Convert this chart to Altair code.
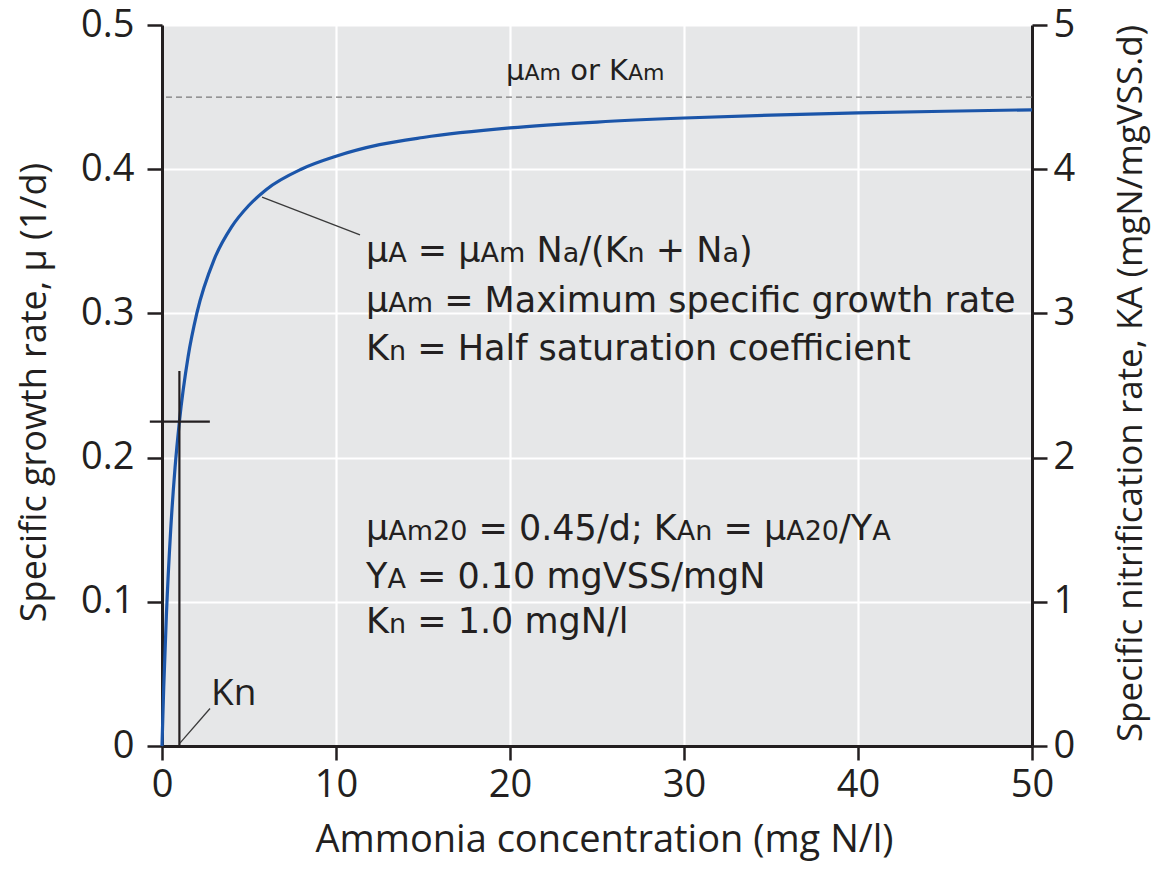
import altair as alt
import pandas as pd

# ---------------- data ----------------
conc = [0, 0.05, 0.1, 0.25, 0.5, 0.75, 1, 1.5, 2, 3, 4, 5, 6, 8, 10,
        12.5, 15, 20, 25, 30, 35, 40, 45, 50]
mu = [0, 0.021, 0.041, 0.090, 0.150, 0.193, 0.225, 0.270, 0.300, 0.3375,
      0.360, 0.375, 0.386, 0.400, 0.409, 0.417, 0.422, 0.4286, 0.4327,
      0.4355, 0.4375, 0.439, 0.4402, 0.4412]

mu_max = [0.45]
kn_value = [1.0]
kn_mu = [0.225]

x_ticks = [0, 10, 20, 30, 40, 50]
y_ticks = [0, 0.1, 0.2, 0.3, 0.4, 0.5]

x_title = "Ammonia concentration (mg N/l)"
y_title = "Specific growth rate, \u03bc (1/d)"
y2_title = "Specific nitrification rate, KA (mgN/mgVSS.d)"

# annotation lines: (segment text, is_subscript)
line1 = [("\u03bc", 0), ("A", 1), (" = \u03bc", 0), ("Am", 1), (" N", 0), ("a", 1),
         ("/(K", 0), ("n", 1), (" + N", 0), ("a", 1), (")", 0)]
line2 = [("\u03bc", 0), ("Am", 1), (" = Maximum specific growth rate", 0)]
line3 = [("K", 0), ("n", 1), (" = Half saturation coefficient", 0)]
line4 = [("\u03bc", 0), ("Am20", 1), (" = 0.45/d; K", 0), ("An", 1), (" = \u03bc", 0),
         ("A20", 1), ("/Y", 0), ("A", 1)]
line5 = [("Y", 0), ("A", 1), (" = 0.10 mgVSS/mgN", 0)]
line6 = [("K", 0), ("n", 1), (" = 1.0 mgN/l", 0)]
top_label = [("\u03bc", 0), ("Am", 1), (" or K", 0), ("Am", 1)]
kn_label = "Kn"

# ---------------- layout ----------------
W, H = 870, 721
PXU = W / 50.0          # pixels per x unit
PYU = H / 0.5           # pixels per y unit
INK = "#231f20"
BLUE = "#1b55a9"
BG = "#e6e7e8"

# DejaVu Sans advance widths (em)
ADV = {' ': .318, '(': .390, ')': .390, '+': .838, ',': .318, '.': .318,
       '/': .337, ';': .337, '=': .838, 'A': .684, 'H': .752, 'K': .656,
       'M': .863, 'N': .748, 'S': .635, 'V': .684, 'Y': .611, 'a': .613,
       'c': .550, 'd': .635, 'e': .615, 'f': .352, 'g': .635, 'h': .634,
       'i': .278, 'l': .278, 'm': .974, 'n': .634, 'o': .612, 'p': .635,
       'r': .411, 's': .521, 't': .392, 'u': .634, 'w': .818, 'x': .592,
       '\u03bc': .636}
for d in "0123456789":
    ADV[d] = .636


def text_width(s, size):
    return sum(ADV.get(c, 0.6) for c in s) * size


def build(segments, x_px, base_px, big, small):
    rows = []
    x = x_px
    for s, sub in segments:
        fs = small if sub else big
        body = s.lstrip(" ")
        x += text_width(s[:len(s) - len(body)], fs)
        rows.append({"x": x / PXU, "y": base_px / PYU, "t": body, "fs": fs})
        x += text_width(body, fs)
    return rows


rows = []
left0 = 204
for segs, base in [(line1, 484), (line2, 434), (line3, 386),
                   (line4, 206), (line5, 158), (line6, 113)]:
    rows += build(segs, left0, base, 35, 27)
rows += build(top_label, 344, 666, 29, 22)
ann = pd.DataFrame(rows)

curve_df = pd.DataFrame({"conc": conc, "mu": mu})
xs = alt.Scale(domain=[0, 50], nice=False, zero=False)
ys = alt.Scale(domain=[0, 0.5], nice=False, zero=False)

x_axis = alt.Axis(values=x_ticks, format="d", title=x_title, orient="bottom",
                  titleFont="Open Sans", titleFontSize=38, titleFontWeight="normal",
                  titleColor=INK, titleX=442, titleY=105, titleAlign="center",
                  titleBaseline="alphabetic",
                  labelFont="Open Sans", labelFontSize=38, labelColor=INK,
                  labelPadding=6, labelFlush=False, labelOverlap=False,
                  tickSize=14, tickWidth=2.5, tickColor=INK,
                  domainColor=INK, domainWidth=3,
                  grid=True, gridColor="white", gridWidth=2.2)

y_axis = alt.Axis(values=y_ticks, format=".1~f", title=y_title, orient="left",
                  titleFont="Open Sans", titleFontSize=36, titleFontWeight="normal",
                  titleColor=INK, titleAngle=270, titleX=-117, titleY=367,
                  titleAlign="center", titleBaseline="alphabetic",
                  labelFont="Open Sans", labelFontSize=38, labelColor=INK,
                  labelPadding=13, labelOverlap=False,
                  tickSize=15, tickWidth=2.5, tickColor=INK,
                  domainColor=INK, domainWidth=3,
                  grid=True, gridColor="white", gridWidth=2.2)

y2_axis = alt.Axis(values=y_ticks, labelExpr="'' + round(datum.value * 10)",
                   title=y2_title, orient="right",
                   titleFont="Open Sans", titleFontSize=35, titleFontWeight="normal",
                   titleColor=INK, titleAngle=270, titleX=109, titleY=358,
                   titleAlign="center", titleBaseline="alphabetic",
                   labelFont="Open Sans", labelFontSize=38, labelColor=INK,
                   labelPadding=6, labelOverlap=False,
                   tickSize=15, tickWidth=2.5, tickColor=INK,
                   domainColor=INK, domainWidth=3, grid=False)


def X(field):
    return alt.X(field, scale=xs, axis=x_axis)


def Y(field):
    return alt.Y(field, scale=ys, axis=None)


curve = alt.Chart(curve_df).mark_line(color=BLUE, strokeWidth=3.2,
                                      interpolate="monotone").encode(
    x=X("conc:Q"),
    y=alt.Y("mu:Q", scale=ys, axis=y_axis),
)

dash = alt.Chart(pd.DataFrame({"v": mu_max})).mark_rule(
    color="#7a7a7a", strokeWidth=1.4, strokeDash=[6, 4]).encode(
    y=alt.Y("v:Q", scale=ys, axis=y2_axis),
)

kn_df = pd.DataFrame({"k": kn_value, "m": kn_mu})
kn_v = alt.Chart(kn_df).mark_rule(color=INK, strokeWidth=2.2).encode(
    x=X("k:Q"),
    y=Y("y0:Q"),
    y2="y1:Q",
).transform_calculate(y0="0", y1="datum.m + 0.035")

kn_h = alt.Chart(kn_df).mark_rule(color=INK, strokeWidth=2.2).encode(
    x=X("x0:Q"),
    x2="x1:Q",
    y=Y("m:Q"),
).transform_calculate(x0="datum.k - 1.7", x1="datum.k + 1.75")

leader_df = pd.DataFrame({"x": [5.75, 1.03], "y": [0.3807, 0.002],
                          "x2": [11.38, 2.76], "y2": [0.3544, 0.026]})
leaders = alt.Chart(leader_df).mark_rule(color="#3a3a3a", strokeWidth=1.3).encode(
    x=X("x:Q"), x2="x2:Q",
    y=Y("y:Q"), y2="y2:Q",
)

texts = alt.Chart(ann).mark_text(align="left", baseline="alphabetic",
                                 font="DejaVu Sans", color=INK).encode(
    x=X("x:Q"),
    y=Y("y:Q"),
    text="t:N",
    size=alt.Size("fs:Q", scale=None, legend=None),
)

kn_text = alt.Chart(pd.DataFrame({"x": [49 / PXU], "y": [41 / PYU], "t": [kn_label]})).mark_text(
    align="left", baseline="alphabetic", font="Open Sans", fontSize=37, color=INK).encode(
    x=X("x:Q"),
    y=Y("y:Q"),
    text="t:N",
)

chart = alt.layer(curve, dash, kn_v, kn_h, leaders, texts, kn_text).resolve_axis(
    x="shared", y="independent"
).properties(
    width=W, height=H,
    autosize=alt.AutoSizeParams(type="none"),
    padding={"left": 154, "top": 17, "right": 120, "bottom": 115},
).configure_view(fill=BG, strokeWidth=0)

chart.save("out.html", embed_options={"renderer": "svg", "actions": False})
